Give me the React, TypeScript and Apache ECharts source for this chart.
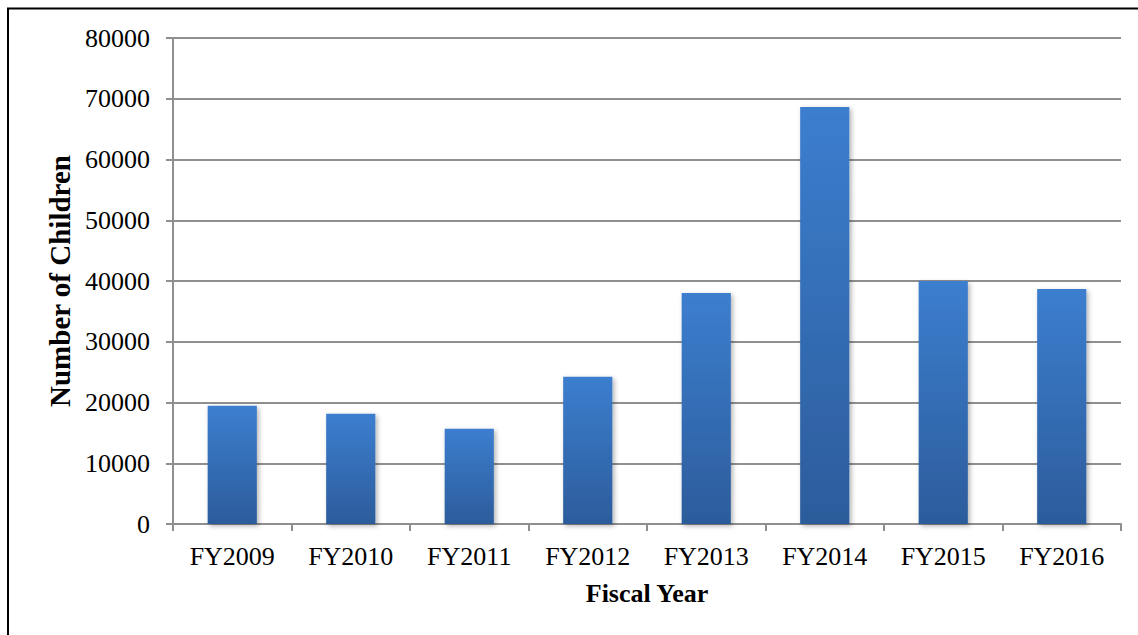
import React, { useEffect, useRef } from "react";
import * as echarts from "echarts";

const categories = ["FY2009", "FY2010", "FY2011", "FY2012", "FY2013", "FY2014", "FY2015", "FY2016"];
const childrenCounts = [19450, 18140, 15670, 24230, 38040, 68640, 40020, 38700];
const yTicks = { min: 0, max: 80000, interval: 10000 };
const xTitle = "Fiscal Year";
const yTitle = "Number of Children";

export default function App() {
  const ref = useRef<HTMLDivElement>(null);
  useEffect(() => {
    if (!ref.current) return;
    const chart = echarts.init(ref.current, undefined, { renderer: "svg" });
    const font = "'Liberation Serif', 'Times New Roman', serif";
    const grey = "#8f8f8f";
    chart.setOption({
      animation: false,
      backgroundColor: "#ffffff",
      grid: { left: 173, right: 17, top: 38, bottom: 111, containLabel: false },
      xAxis: {
        type: "category",
        data: categories,
        name: xTitle,
        nameLocation: "middle",
        nameGap: 56,
        nameTextStyle: { fontFamily: font, fontWeight: "bold", fontSize: 26, color: "#000" },
        axisLine: { lineStyle: { color: grey, width: 2 } },
        axisTick: { show: true, length: 7, alignWithLabel: false, lineStyle: { color: grey, width: 2 } },
        axisLabel: { fontFamily: font, fontSize: 26, color: "#000", margin: 19 },
        splitLine: { show: false },
      },
      yAxis: {
        type: "value",
        min: yTicks.min,
        max: yTicks.max,
        interval: yTicks.interval,
        name: yTitle,
        nameLocation: "middle",
        nameGap: 96,
        nameTextStyle: { fontFamily: font, fontWeight: "bold", fontSize: 29, color: "#000" },
        axisLine: { show: true, lineStyle: { color: grey, width: 2 } },
        axisTick: { show: true, length: 7, lineStyle: { color: grey, width: 2 } },
        axisLabel: {
          fontFamily: font,
          fontSize: 26,
          color: "#000",
          margin: 23,
          formatter: (v: number) => String(v),
        },
        splitLine: { show: true, lineStyle: { color: grey, width: 2 } },
      },
      series: [
        {
          type: "bar",
          data: childrenCounts,
          barWidth: "41.5%",
          itemStyle: {
            color: new echarts.graphic.LinearGradient(0, 0, 0, 1, [
              { offset: 0, color: "#3c7ecf" },
              { offset: 1, color: "#2c5c9b" },
            ]),
            shadowColor: "rgba(0,0,0,0.3)",
            shadowBlur: 5,
            shadowOffsetX: 2,
            shadowOffsetY: 2,
          },
        },
      ],
      graphic: [
        {
          type: "polyline",
          shape: { points: [[8, 640], [8, 8.5], [1140, 8.5]] },
          style: { stroke: "#000", lineWidth: 2, fill: "none" },
          z: 100,
        },
      ],
    });
    return () => chart.dispose();
  }, []);
  return (
    <div
      ref={ref}
      style={{ position: "fixed", left: 0, top: 0, width: 1138, height: 635 }}
    />
  );
}
